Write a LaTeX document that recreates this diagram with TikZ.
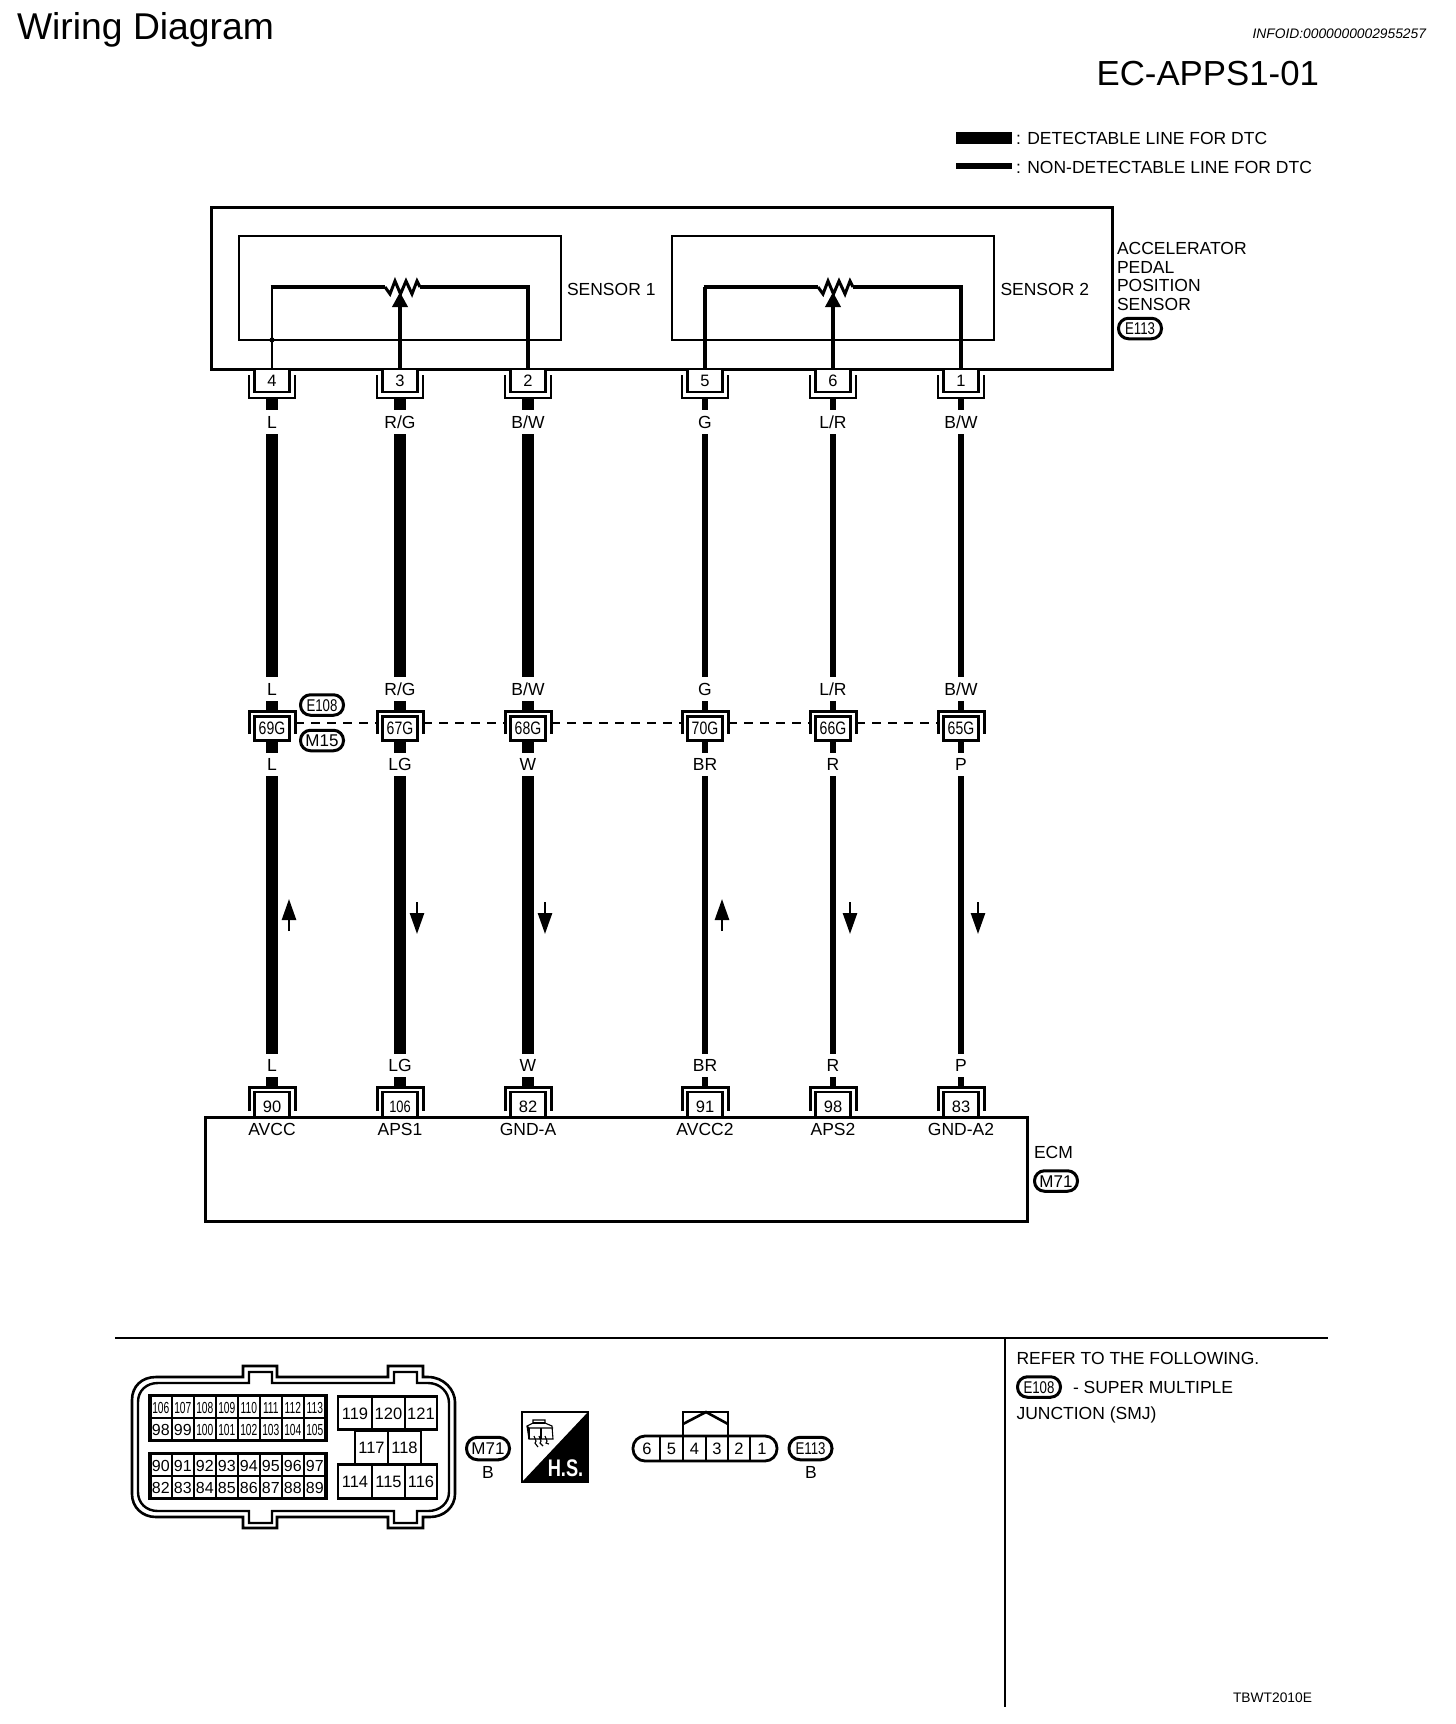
\documentclass[tikz,border=0pt]{standalone}
\usepackage{fontspec}
\setmainfont{Liberation Sans}
\newfontfamily\narrowfont[FakeStretch=0.78]{Liberation Sans}
\newfontfamily\slimfont[FakeStretch=0.64]{Liberation Sans}
\newfontfamily\narrowbold[FakeStretch=0.76]{Liberation Sans Bold}
\usetikzlibrary{arrows.meta}
\newcommand{\fs}[1]{\fontsize{#1}{#1}\selectfont}
\tikzset{
  txt/.style={inner sep=0,outer sep=0,font=\fs{17.5},text height=12.6pt,text depth=0pt},
  wirelab/.style={txt,minimum width=40pt,align=center},
  boxline/.style={draw,line width=3pt},
  innerline/.style={draw,line width=2.4pt},
  pinbox/.style={draw,line width=2.4pt,fill=white,inner sep=0,outer sep=0,minimum width=35pt,font=\fs{16.5},text height=12pt,text depth=0pt},
  brk/.style={inner sep=0,outer sep=0,minimum width=46pt},
  brkline/.style={draw,line width=2.6pt},
  det/.style={line width=12pt},
  nondet/.style={line width=6pt},
  sensw/.style={line width=3.6pt,line join=miter},
  oval/.style={draw,line width=3pt,rounded corners=10pt,inner sep=0,outer sep=0,minimum width=43pt,minimum height=20.5pt,font=\fs{17},text height=12.4pt,text depth=0pt},
  flow/.style={line width=2.6pt,-{Triangle[length=21pt,width=14pt]}},
  shield/.style={draw=black,dashed,dash pattern=on 9pt off 7pt,line width=2pt},
  cell/.style={draw,line width=2pt,inner sep=0,outer sep=0,minimum width=22pt,minimum height=22.5pt,font=\fs{16},text height=12pt,text depth=0pt},
  bigcell/.style={draw,line width=2.6pt,inner sep=0,outer sep=0,minimum height=33.5pt,font=\fs{16.5},text height=12pt,text depth=0pt},
}
\begin{document}
\begin{tikzpicture}[x=1pt,y=-1pt]
\useasboundingbox (0,0) rectangle (1456,1724);
% headers
\node[txt,anchor=west,font=\fs{37.3},text height=27pt] (title) at (17,26) {Wiring Diagram};
\node[txt,anchor=east,font=\itshape\fs{13.8},text height=10pt] (infoid) at (1426,33) {INFOID:0000000002955257};
\node[txt,anchor=east,font=\fs{34.8},text height=25.5pt] (code) at (1319,73) {EC-APPS1-01};
% legend
\coordinate (lg1a) at (956,137.5); \coordinate (lg1b) at (1012,137.5);
\coordinate (lg2a) at (956,166); \coordinate (lg2b) at (1012,166);
\draw[det] (lg1a) -- (lg1b);
\draw[nondet] (lg2a) -- (lg2b);
\node[txt,anchor=west] (lgt1) at (1016,138.5) {: DETECTABLE LINE FOR DTC};
\node[txt,anchor=west] (lgt2) at (1016,167) {: NON-DETECTABLE LINE FOR DTC};
% sensor boxes
\node[boxline,inner sep=0,outer sep=0,minimum width=901pt,minimum height=162pt] (aps) at (661.5,288) {};
\node[innerline,inner sep=0,outer sep=0,minimum width=322pt,minimum height=104pt] (s1) at (400,288) {};
\node[innerline,inner sep=0,outer sep=0,minimum width=322pt,minimum height=104pt] (s2) at (833,288) {};
\node[txt,anchor=west] (s1t) at (567,289) {SENSOR 1};
\node[txt,anchor=west] (s2t) at (1000.5,289) {SENSOR 2};
\node[txt,anchor=west] (n1) at (1117,248.5) {ACCELERATOR};
\node[txt,anchor=west] (n2) at (1117,267) {PEDAL};
\node[txt,anchor=west] (n3) at (1117,285.5) {POSITION};
\node[txt,anchor=west] (n4) at (1117,304) {SENSOR};
\node[oval,font=\narrowfont\fs{17}] (oe113) at (1140,328.5) {E113};
% columns
\foreach \c/\x/\tp/\ua/\lb/\mp/\ep/\el/\st in {
  a/272/4/L/L/69G/90/AVCC/det,
  b/400/3/R\slash G/LG/67G/106/APS1/det,
  c/528/2/B\slash W/W/68G/82/GND-A/det,
  d/705/5/G/BR/70G/91/AVCC2/nondet,
  e/833/6/L\slash R/R/66G/98/APS2/nondet,
  f/961/1/B\slash W/P/65G/83/GND-A2/nondet}{
  % top connector
  \node[pinbox,minimum height=23pt] (T\c) at (\x,380.5) {\tp};
  \node[brk,minimum height=23pt] (BT\c) at (\x,386.5) {};
  \draw[brkline] (BT\c.north west) -- (BT\c.south west) -- (BT\c.south east) -- (BT\c.north east);
  \node[wirelab,minimum height=24pt] (LA\c) at (\x,422) {\ua};
  \node[wirelab,minimum height=24pt] (LB\c) at (\x,689) {\ua};
  % mid connector
  \node[brk,minimum height=23pt] (BM\c) at (\x,722.5) {};
  \draw[brkline,line width=3pt] (BM\c.south west) -- (BM\c.north west) -- (BM\c.north east) -- (BM\c.south east);
  \node[pinbox,minimum height=24pt,line width=3pt,font=\narrowfont\fs{18},text height=13pt] (M\c) at (\x,728) {\mp};
  \node[wirelab,minimum height=23pt] (LC\c) at (\x,764.5) {\lb};
  \node[wirelab,minimum height=23pt] (LD\c) at (\x,1065.5) {\lb};
  % ecm connector
  \node[brk,minimum height=24pt] (BE\c) at (\x,1099) {};
  \draw[brkline,line width=3pt] (BE\c.south west) -- (BE\c.north west) -- (BE\c.north east) -- (BE\c.south east);
  \node[pinbox,minimum height=25pt,text height=16pt] (E\c) at (\x,1104.5) {\ifnum\ep>99 \narrowfont\fi\ep};
  \node[txt] (S\c) at (\x,1129) {\el};
  % wires
  \draw[\st] (BT\c.south) -- (LA\c.north);
  \draw[\st] (LA\c.south) -- (LB\c.north);
  \draw[\st] (LB\c.south) -- (BM\c.north);
  \draw[\st] (M\c.south) -- (LC\c.north);
  \draw[\st] (LC\c.south) -- (LD\c.north);
  \draw[\st] (LD\c.south) -- (BE\c.north);
}
% dashed shielding line
\foreach \p/\q in {a/b,b/c,c/d,d/e,e/f}{\draw[shield] (BM\p.east) -- (BM\q.west);}
\node[oval] (oe108) at (322,705) {\narrowfont E108};
\node[oval] (om15) at (322,740.5) {M15};
% flow arrows
\foreach \c/\x in {a/289,d/722}{
  \coordinate (fs\c) at (\x,931); \coordinate (fe\c) at (\x,899);
  \draw[flow] (fs\c) -- (fe\c);
}
\foreach \c/\x in {b/417,c/545,e/850,f/978}{
  \coordinate (fs\c) at (\x,902); \coordinate (fe\c) at (\x,934);
  \draw[flow] (fs\c) -- (fe\c);
}
% potentiometers
\foreach \n/\o/\l/\m/\r/\lw in {1/0/a/b/c/2.6,2/433/d/e/f/3.6}{
  \begin{scope}[shift={(\o,0)}]
    \coordinate (rw\n) at (385,287);
    \coordinate (re\n) at (420,287);
    \coordinate (tip\n) at (400,292);
    \draw[line width=3pt,line join=miter] (rw\n) -- (390,294) -- (395,281) -- (400.5,294) -- (406,281) -- (412,294) -- (417,281) -- (re\n);
  \end{scope}
  \draw[line width=\lw pt] (T\l.north) -- (T\l.north |- rw\n);
  \draw[sensw] ([xshift=-1.3pt]T\l.north |- rw\n) -- (rw\n);
  \draw[sensw] (T\r.north) |- (re\n);
  \draw[sensw,-{Triangle[length=15pt,width=15pt]}] (T\m.north) -- (tip\n);
}
\fill (272,340) circle (2.6pt);
% ECM
\node[boxline,inner sep=0,outer sep=0,minimum width=822pt,minimum height=104pt] (ecm) at (616,1169) {};
\node[txt,anchor=west] (ecmt) at (1034,1152.5) {ECM};
\node[oval] (om71) at (1056,1181) {M71};
% bottom frame
\coordinate (h1) at (115,1338); \coordinate (h2) at (1328,1338);
\coordinate (v1) at (1005,1338); \coordinate (v2) at (1005,1707);
\draw[line width=2.6pt] (h1) -- (h2);
\draw[line width=2.4pt] (v1) -- (v2);
\node[txt,anchor=west] (ref1) at (1016.5,1358.5) {REFER TO THE FOLLOWING.};
\node[oval] (oe108b) at (1039,1387) {\narrowfont E108};
\node[txt,anchor=west] (ref2) at (1073,1387) {- SUPER MULTIPLE};
\node[txt,anchor=west] (ref3) at (1016.5,1413.5) {JUNCTION (SMJ)};
\node[txt,anchor=east,font=\fs{13.8},text height=10pt] (tb) at (1312,1697) {TBWT2010E};
% M71 connector outline
\draw[line width=2.6pt,fill=white]
  (132,1400) .. controls (132,1386) and (142,1377) .. (156,1377)
  -- (243,1377) -- (243,1366) -- (277,1366) -- (277,1377)
  -- (388,1377) -- (388,1366) -- (423,1366) -- (423,1377)
  -- (428,1377) .. controls (444,1377) and (455,1390) .. (455,1402)
  -- (455,1494) .. controls (455,1507) and (444,1517) .. (430,1517)
  -- (423,1517) -- (423,1528) -- (388,1528) -- (388,1517)
  -- (277,1517) -- (277,1528) -- (243,1528) -- (243,1517)
  -- (156,1517) .. controls (142,1517) and (132,1507) .. (132,1494) -- cycle;
\draw[line width=2.4pt]
  (138,1402) .. controls (138,1391) and (146,1383) .. (158,1383)
  -- (249,1383) -- (249,1372) -- (272,1372) -- (272,1383)
  -- (394,1383) -- (394,1372) -- (417,1372) -- (417,1383)
  -- (428,1383) .. controls (440,1383) and (449,1392) .. (449,1403)
  -- (449,1492) .. controls (449,1503) and (440,1511) .. (428,1511)
  -- (417,1511) -- (417,1523) -- (394,1523) -- (394,1511)
  -- (272,1511) -- (272,1523) -- (249,1523) -- (249,1511)
  -- (158,1511) .. controls (146,1511) and (138,1503) .. (138,1492) -- cycle;
% small pin grid
\foreach \n [count=\i from 0] in {106,107,108,109,110,111,112,113}{\node[cell] (p\n) at ({160.8+\i*22},1407) {\slimfont\n};}
\foreach \n [count=\i from 0] in {98,99,100,101,102,103,104,105}{\node[cell] (p\n) at ({160.8+\i*22},1429.5) {\ifnum\n>99 \slimfont\fi\n};}
\foreach \n [count=\i from 0] in {90,91,92,93,94,95,96,97}{\node[cell] (p\n) at ({160.8+\i*22},1465) {\n};}
\foreach \n [count=\i from 0] in {82,83,84,85,86,87,88,89}{\node[cell] (p\n) at ({160.8+\i*22},1487.5) {\n};}
\node[line width=3.4pt,draw,inner sep=0,outer sep=0,minimum width=176pt,minimum height=45pt] (blk1) at (237.8,1418.25) {};
\node[line width=3.4pt,draw,inner sep=0,outer sep=0,minimum width=176pt,minimum height=45pt] (blk2) at (237.8,1476.25) {};
% large pins
\node[bigcell,minimum width=34pt] (p119) at (355,1413) {119};
\node[bigcell,minimum width=33pt] (p120) at (388.5,1413) {120};
\node[bigcell,minimum width=32pt] (p121) at (421,1413) {121};
\node[bigcell,minimum width=33pt] (p117) at (371.5,1447.5) {117};
\node[bigcell,minimum width=33pt] (p118) at (404.5,1447.5) {118};
\node[bigcell,minimum width=34pt] (p114) at (355,1481.5) {114};
\node[bigcell,minimum width=33pt] (p115) at (388.5,1481.5) {115};
\node[bigcell,minimum width=32pt] (p116) at (421,1481.5) {116};
\node[oval,minimum height=22.5pt,rounded corners=11pt] (om71b) at (488,1448.5) {M71};
\node[txt] (bm71) at (488,1472) {B};
% H.S. badge
\node[draw,line width=2pt,inner sep=0,outer sep=0,minimum width=66pt,minimum height=70pt] (hs) at (555,1447) {};
\fill (hs.south west) -- (hs.north east) -- (hs.south east) -- cycle;
\node[txt,font=\narrowbold\fs{24},text height=18pt,text=white] (hst) at (565.5,1467) {H.S.};
\begin{scope}[line width=1.1pt]
  \draw (527,1426) -- (533,1423) -- (533,1420) -- (545,1420) -- (545,1423) -- (552,1426) -- (553,1439) -- (529,1439) -- cycle;
  \draw (527,1426) -- (529,1428) -- (553,1428);
  \draw (529,1428) -- (529,1439);
  \draw (541,1428) -- (541,1439);
  \draw (533,1423) -- (545,1423);
  \draw (534,1436) -- (536,1441) -- (535,1443) -- (538,1447);
  \draw (539,1436) -- (541,1441) -- (540,1443) -- (543,1446);
  \draw (545,1436) -- (547,1441) -- (546,1443) -- (549,1444);
\end{scope}
% E113 connector
\draw[line width=2.6pt] (683,1436) -- (683,1412) -- (728,1412) -- (728,1436);
\draw[line width=2.6pt] (683,1424) -- (706,1412) -- (728,1424);
\node[minimum width=144pt,minimum height=25pt,inner sep=0,outer sep=0] (cbody) at (705,1448.5) {};
\draw[line width=2.8pt,rounded corners=12pt] (cbody.south west) rectangle (cbody.north east);
\foreach \n/\x in {6/647,5/671.5,4/694.5,3/717,2/739,1/762}{
  \node[txt,font=\fs{16.5},text height=12pt] (ct\n) at (\x,1448.5) {\n};
}
\foreach \x/\nm in {660/a,683/b,706/c,728/d,750/e}{
  \coordinate (dv\nm t) at (\x,1436); \coordinate (dv\nm b) at (\x,1461);
  \draw[line width=2.2pt] (dv\nm t) -- (dv\nm b);
}
\node[oval,minimum height=22.5pt,rounded corners=11pt,font=\narrowfont\fs{17}] (oe113b) at (810.5,1448.5) {E113};
\node[txt] (be113) at (811,1472) {B};
\end{tikzpicture}
\end{document}
